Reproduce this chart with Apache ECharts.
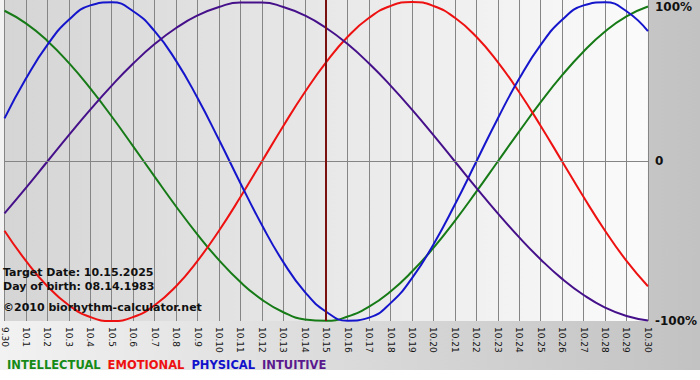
<!DOCTYPE html>
<html>
<head>
<meta charset="utf-8">
<script src="https://cdn.jsdelivr.net/npm/echarts@6/dist/echarts.min.js"></script>
<style>
  html, body { margin: 0; padding: 0; background: #fff; }
  #chart { width: 700px; height: 380px; }
</style>
</head>
<body>
<div id="chart"></div>
<script>
// Days shown on the x axis (month.day)
const days = ['9.30', '10.1', '10.2', '10.3', '10.4', '10.5', '10.6', '10.7', '10.8', '10.9',
  '10.10', '10.11', '10.12', '10.13', '10.14', '10.15', '10.16', '10.17', '10.18', '10.19',
  '10.20', '10.21', '10.22', '10.23', '10.24', '10.25', '10.26', '10.27', '10.28', '10.29', '10.30'];

// Cycle values per day, -1 .. 1
const intellectual = [0.945, 0.866, 0.756, 0.618, 0.458, 0.282, 0.095, -0.095, -0.282, -0.458, -0.618,
  -0.756, -0.866, -0.945, -0.990, -0.999, -0.972, -0.910, -0.815, -0.690, -0.541, -0.372, -0.189,
  0, 0.189, 0.372, 0.541, 0.690, 0.815, 0.910, 0.972];
const emotional = [-0.434, -0.623, -0.782, -0.901, -0.975, -1, -0.975, -0.901, -0.782, -0.623, -0.434,
  -0.223, 0, 0.223, 0.434, 0.623, 0.782, 0.901, 0.975, 1, 0.975, 0.901, 0.782, 0.623, 0.434, 0.223,
  0, -0.223, -0.434, -0.623, -0.782];
const physical = [0.270, 0.520, 0.731, 0.888, 0.979, 0.998, 0.942, 0.817, 0.631, 0.398, 0.136, -0.136,
  -0.398, -0.631, -0.817, -0.942, -0.998, -0.979, -0.888, -0.731, -0.520, -0.270, 0, 0.270, 0.520,
  0.731, 0.888, 0.979, 0.998, 0.942, 0.817];
const intuitive = [-0.325, -0.165, 0, 0.165, 0.325, 0.476, 0.614, 0.736, 0.837, 0.916, 0.969, 0.997,
  0.997, 0.969, 0.916, 0.837, 0.736, 0.614, 0.476, 0.325, 0.165, 0, -0.165, -0.325, -0.476, -0.614,
  -0.736, -0.837, -0.916, -0.969, -0.997];

const targetDay = '10.15';
const notes = ['Target Date: 10.15.2025', 'Day of birth: 08.14.1983', '\u00a92010 biorhythm-calculator.net'];

const FONT = '"DejaVu Sans", Verdana, sans-serif';
const GRID_GRAY = '#858585';

const chart = echarts.init(document.getElementById('chart'), null, { renderer: 'svg' });

const makeSeries = (name, data, color) => ({
  name: name,
  type: 'line',
  data: data,
  smooth: true,
  symbol: 'none',
  lineStyle: { color: color, width: 2 },
  itemStyle: { color: color },
  emphasis: { disabled: true }
});

const option = {
  animation: false,
  backgroundColor: {
    type: 'linear', x: 0, y: 0, x2: 1, y2: 0,
    colorStops: [
      { offset: 0, color: '#f2f2f2' },
      { offset: 1, color: '#c2c2c2' }
    ]
  },
  grid: {
    left: 0,
    right: 49,
    top: 0,
    bottom: 59,
    show: true,
    borderWidth: 0,
    backgroundColor: {
      type: 'linear', x: 0, y: 0, x2: 1, y2: 0,
      colorStops: [
        { offset: 0, color: '#d5d5d5' },
        { offset: 1, color: '#fbfbfb' }
      ]
    }
  },
  legend: {
    left: -3,
    top: 354,
    icon: 'rect',
    itemWidth: 0,
    itemHeight: 0,
    itemGap: 2,
    selectedMode: false,
    textStyle: { fontFamily: FONT, fontSize: 11.5, fontWeight: 'bold' },
    data: [
      { name: 'INTELLECTUAL', textStyle: { color: '#168a16' } },
      { name: 'EMOTIONAL', textStyle: { color: '#ee1111' } },
      { name: 'PHYSICAL', textStyle: { color: '#1111cc' } },
      { name: 'INTUITIVE', textStyle: { color: '#5a1a8e' } }
    ]
  },
  xAxis: {
    type: 'category',
    data: days,
    boundaryGap: false,
    axisLine: { lineStyle: { color: GRID_GRAY, width: 1 } },
    axisTick: { show: true, length: 5, lineStyle: { color: GRID_GRAY } },
    axisLabel: {
      interval: 0,
      rotate: -90,
      margin: 6,
      color: '#111',
      fontFamily: FONT,
      fontSize: 9
    },
    splitLine: { show: true, lineStyle: { color: GRID_GRAY, width: 1 } }
  },
  yAxis: {
    type: 'value',
    position: 'right',
    min: -1,
    max: 1.0125,
    interval: 1,
    axisLine: { show: false },
    axisTick: { show: false },
    splitLine: { show: false },
    axisLabel: {
      margin: 7,
      color: '#111',
      fontFamily: FONT,
      fontSize: 12,
      fontWeight: 'bold',
      showMaxLabel: false,
      formatter: (v) => {
        if (v === 1) return '{top|100%}';
        if (v === 0) return '0';
        if (v === -1) return '-100%';
        return '';
      },
      rich: {
        top: { fontFamily: FONT, fontSize: 12, fontWeight: 'bold', color: '#111', padding: [10, 0, 0, 0] }
      }
    }
  },
  series: [
    makeSeries('INTELLECTUAL', intellectual, '#167a16'),
    makeSeries('EMOTIONAL', emotional, '#ee1111'),
    makeSeries('PHYSICAL', physical, '#1515cc'),
    Object.assign(makeSeries('INTUITIVE', intuitive, '#45108a'), {
      markLine: {
        silent: true,
        symbol: 'none',
        label: { show: false },
        animation: false,
        data: [
          { yAxis: 0, lineStyle: { color: GRID_GRAY, width: 1, type: 'solid' } },
          { xAxis: targetDay, lineStyle: { color: '#7a1010', width: 2, type: 'solid' } }
        ]
      }
    })
  ],
  graphic: [
    { type: 'rect', left: 0, top: 370, shape: { width: 700, height: 10 }, style: { fill: '#ffffff' }, silent: true },
    {
      type: 'text', left: 3, top: 267, z: 100,
      style: { text: notes[0], font: 'bold 11px ' + FONT, fill: '#111' }
    },
    {
      type: 'text', left: 3, top: 281, z: 100,
      style: { text: notes[1], font: 'bold 11px ' + FONT, fill: '#111' }
    },
    {
      type: 'text', left: 3, top: 302, z: 100,
      style: { text: notes[2], font: 'bold 11px ' + FONT, fill: '#111' }
    }
  ]
};

chart.setOption(option);
</script>
</body>
</html>
